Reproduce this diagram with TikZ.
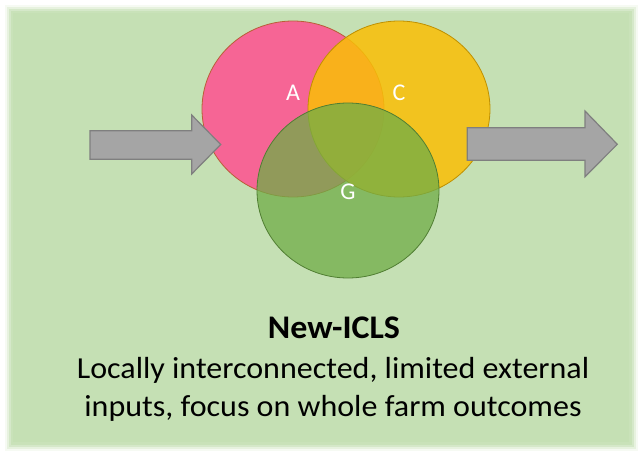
\documentclass[tikz,border=0pt]{standalone}
\usepackage{fontspec}
\setmainfont{Carlito}
\definecolor{bggreen}{RGB}{197,224,180}
\definecolor{pinkc}{RGB}{255,80,144}
\definecolor{pinkline}{RGB}{185,95,55}
\definecolor{goldc}{RGB}{250,191,6}
\definecolor{goldline}{RGB}{191,144,0}
\definecolor{greenc}{RGB}{112,173,71}
\definecolor{greenline}{RGB}{80,126,50}
\definecolor{arrowfill}{RGB}{165,165,165}
\definecolor{arrowline}{RGB}{127,127,127}
\tikzset{
  venn/.style={fill opacity=0.85, line width=0.8pt},
  blockarrow/.style={fill=arrowfill, draw=arrowline, line width=1.2pt, line join=miter},
  lbl/.style={text=white, font=\fontsize{24}{26}\selectfont, inner sep=0pt},
}
\begin{document}
\begin{tikzpicture}[x=1pt,y=-1pt]
\useasboundingbox (0,0) rectangle (641,455);
\fill[white] (0,0) rectangle (641,455);
% soft-edged panel
\fill[bggreen, opacity=0.15] (5,5) rectangle (638,451);
\fill[bggreen, opacity=0.3] (7,7) rectangle (636,449);
\fill[bggreen, opacity=0.5] (9,9) rectangle (634,447);
\fill[bggreen, opacity=0.75] (11,11) rectangle (632,445);
\fill[bggreen] (13,13) rectangle (629,442);
% Venn circles
\draw[venn, fill=pinkc, draw=pinkline] (293,109) ellipse [x radius=91, y radius=88];
\draw[venn, fill=goldc, draw=goldline] (399,109) ellipse [x radius=91, y radius=88];
\draw[venn, fill=greenc, draw=greenline, fill opacity=0.75] (348,190.5) ellipse [x radius=91, y radius=87.5];
\node[lbl] (A) at (293,93) {A};
\node[lbl] (C) at (399,93) {C};
\node[lbl] (G) at (348,192) {G};
% block arrows
\draw[blockarrow] (90,130.7) -- (191.7,130.7) -- (191.7,115) -- (220.7,144.5) -- (191.7,174) -- (191.7,159.3) -- (90,159.3) -- cycle;
\draw[blockarrow] (467.3,127.7) -- (585,127.7) -- (585,111) -- (617.3,144.3) -- (585,176.7) -- (585,160.3) -- (467.3,160.3) -- cycle;
% text
\node[font=\bfseries\fontsize{33}{36}\selectfont, inner sep=0pt, xscale=1.03] (title) at (334,328) {New-ICLS};
\node[font=\fontsize{30.5}{38}\selectfont, align=center, inner sep=0pt, xscale=1.05] (desc) at (333,389) {Locally interconnected, limited external\\inputs, focus on whole farm outcomes};
\end{tikzpicture}
\end{document}
